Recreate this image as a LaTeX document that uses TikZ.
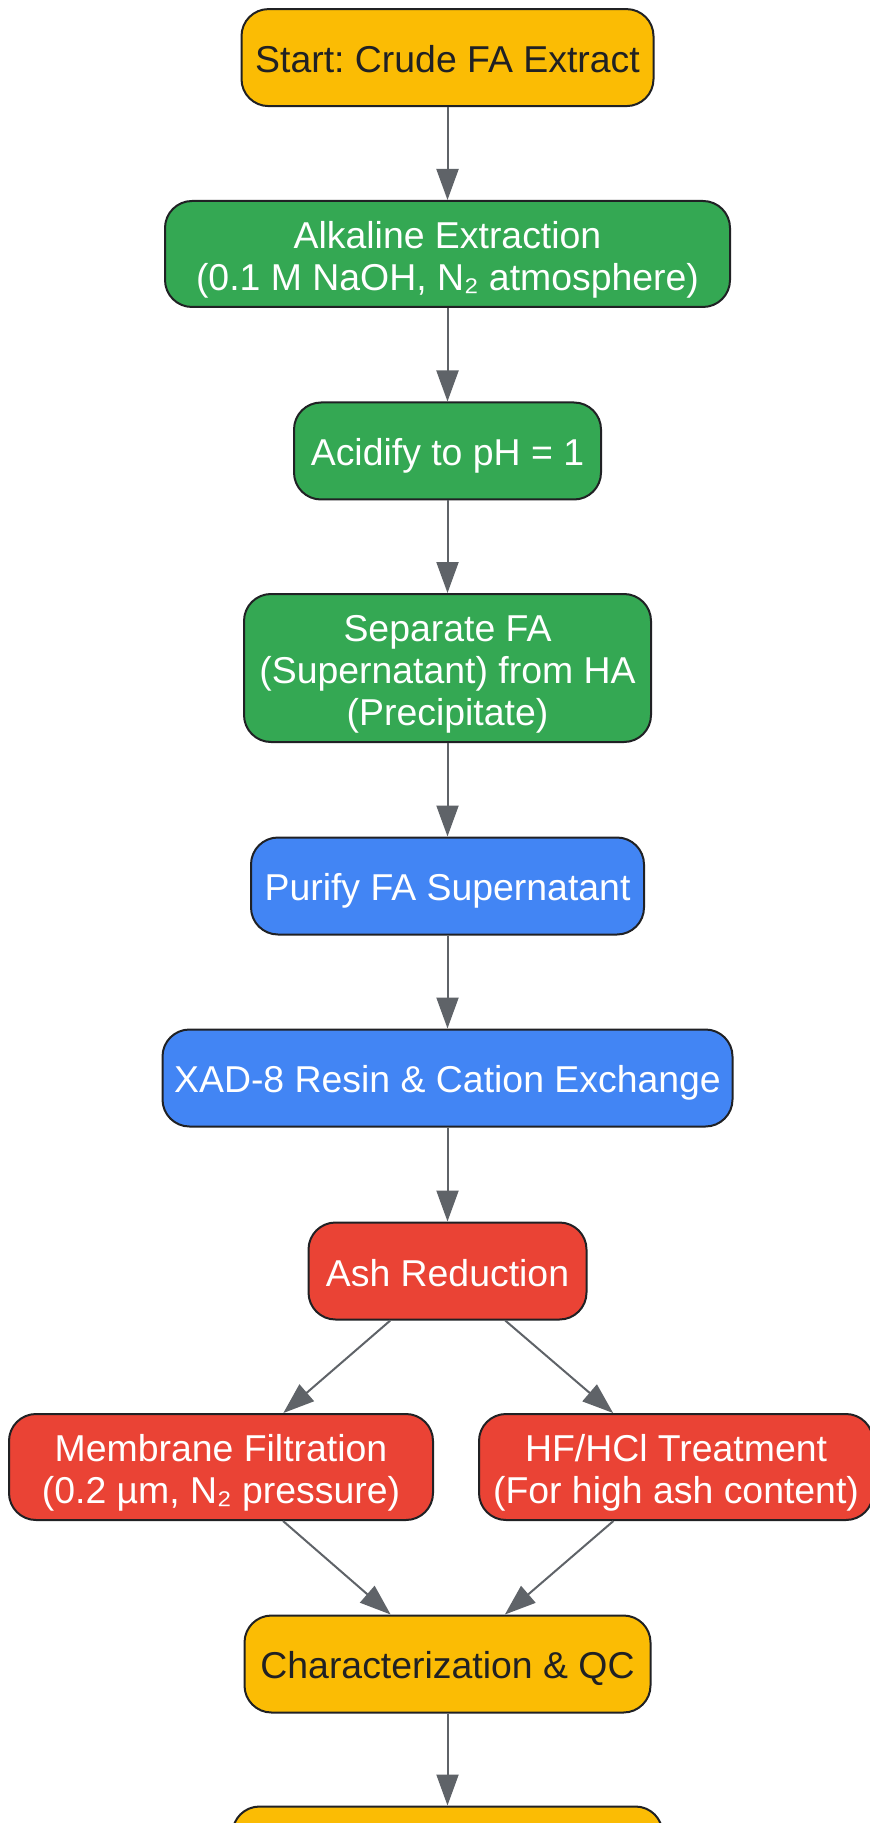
\documentclass[tikz,border=0pt]{standalone}
\usepackage{fontspec}
\setmainfont{Liberation Sans}
\usetikzlibrary{arrows.meta}
\definecolor{gyellow}{HTML}{FBBC04}
\definecolor{ggreen}{HTML}{34A853}
\definecolor{gblue}{HTML}{4285F4}
\definecolor{gred}{HTML}{EA4335}
\definecolor{gline}{HTML}{5F6368}
\definecolor{gdark}{HTML}{202124}
\newcommand{\linestrut}{\rule[-2.8pt]{0pt}{21pt}}
\newcommand{\topstrut}{\rule{0pt}{19.2pt}}
\tikzset{
	stepnode/.style={draw=gdark,line width=1pt,rounded corners=13.5pt,align=center,inner sep=0pt,
		font=\fontsize{18.7}{21}\selectfont\frenchspacing,
		execute at begin node=\linestrut,execute at end node=\linestrut},
	yellowbox/.style={stepnode,fill=gyellow,text=gdark},
	greenbox/.style={stepnode,fill=ggreen,text=white},
	bluebox/.style={stepnode,fill=gblue,text=white},
	redbox/.style={stepnode,fill=gred,text=white},
	flow/.style={draw=gline,line width=1pt,-{Triangle[length=15.5pt,width=11pt]}}
}
\begin{document}
\begin{tikzpicture}[x=0.5pt,y=-0.5pt]
	\clip (0,0) rectangle (870,1823);
	\fill[white] (0,0) rectangle (870,1823);
	% preparation
	\node[yellowbox,minimum width=206pt,minimum height=48.5pt] (start) at (447.5,57.6) {Start: Crude FA Extract};
	\node[greenbox,minimum width=282.5pt,minimum height=53pt] (alk) at (447.5,254) {\topstrut Alkaline Extraction\\(0.1 M NaOH, N₂ atmosphere)};
	\node[greenbox,minimum width=153.5pt,minimum height=48.5pt] (acid) at (447.5,451) {Acidify to pH = 1};
	\node[greenbox,minimum width=203.5pt,minimum height=74pt] (sep) at (447.5,668) {\topstrut Separate FA\\(Supernatant) from HA\\(Precipitate)};
	% purification
	\node[bluebox,minimum width=196.5pt,minimum height=48.5pt] (pur) at (447.5,886) {Purify FA Supernatant};
	\node[bluebox,minimum width=285pt,minimum height=48.5pt] (xad) at (447.5,1078) {XAD-8 Resin \& Cation Exchange};
	% ash removal
	\node[redbox,minimum width=139pt,minimum height=48.5pt] (ash) at (447.5,1271) {Ash Reduction};
	\node[redbox,minimum width=212pt,minimum height=53pt] (mem) at (221,1467) {\topstrut Membrane Filtration\\(0.2 µm, N₂ pressure)};
	\node[redbox,minimum width=197pt,minimum height=53pt] (hf) at (676,1467) {\topstrut HF/HCl Treatment\\(For high ash content)};
	% end
	\node[yellowbox,minimum width=203pt,minimum height=48.5pt] (qc) at (447.5,1664) {Characterization \& QC};
	\node[yellowbox,minimum width=215pt,minimum height=48.5pt] (fin) at (447.5,1855) {};
	\draw[flow] (start) -- (alk);
	\draw[flow] (alk) -- (acid);
	\draw[flow] (acid) -- (sep);
	\draw[flow] (sep) -- (pur);
	\draw[flow] (pur) -- (xad);
	\draw[flow] (xad) -- (ash);
	\draw[flow] (ash) -- (mem);
	\draw[flow] (ash) -- (hf);
	\draw[flow] (mem) -- (qc);
	\draw[flow] (hf) -- (qc);
	\draw[flow] (qc) -- (fin);
\end{tikzpicture}
\end{document}
